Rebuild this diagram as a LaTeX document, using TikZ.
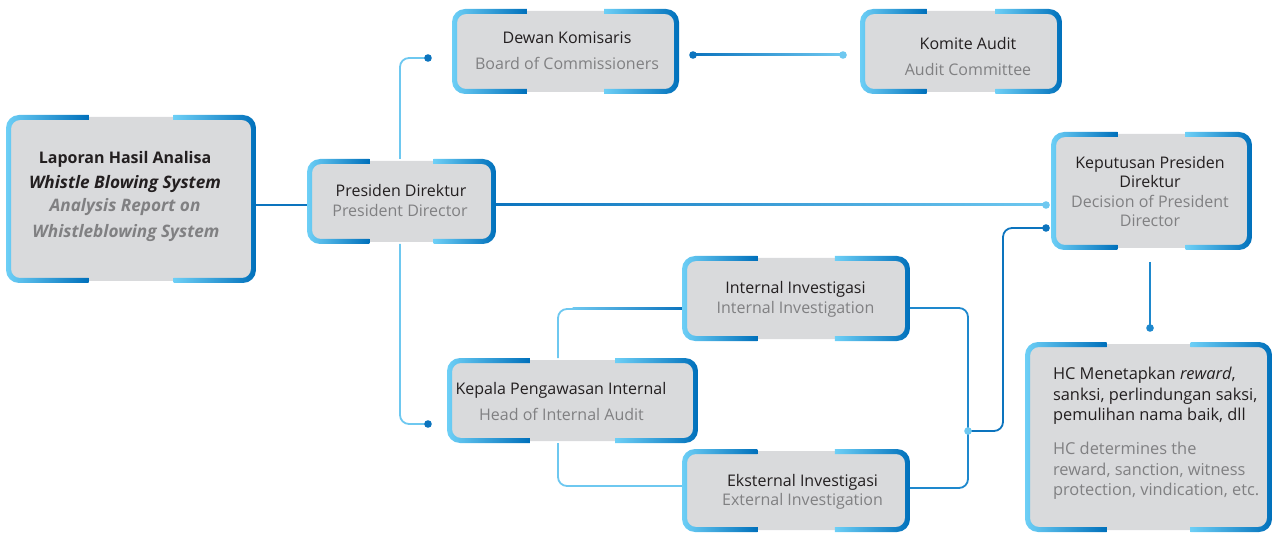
\documentclass[tikz,border=0pt]{standalone}
\usepackage{fontspec}
\setmainfont{Open Sans}
\usetikzlibrary{calc}
\definecolor{lb}{RGB}{109,207,246}
\definecolor{db}{RGB}{0,112,187}
\definecolor{boxgray}{RGB}{217,218,220}
\definecolor{llt}{RGB}{110,200,240}
\definecolor{ldk}{RGB}{12,116,190}
\definecolor{lmid}{RGB}{30,136,205}
\definecolor{tblack}{RGB}{35,31,32}
\definecolor{tgray}{RGB}{128,128,130}
\tikzset{
  boxn/.style={rectangle, inner sep=0pt, outer sep=0pt},
  tx/.style={anchor=mid, inner sep=0pt, outer sep=0pt, yshift=-1.5pt, font=\fontsize{16}{19}\selectfont},
  tb/.style={tx, text=tblack},
  tg/.style={tx, text=tgray},
  hcb/.style={tb, anchor=mid west, font=\fontsize{16.4}{20}\selectfont},
  hcg/.style={tg, anchor=mid west, font=\fontsize{16.4}{20}\selectfont},
  conn/.style={line width=1.8pt, rounded corners=9pt},
}
\newcommand\wbframe[1]{%
  \fill[boxgray,rounded corners=11pt] ([xshift=2pt,yshift=2pt]#1.south west) rectangle ([xshift=-2pt,yshift=-2pt]#1.north east);
  \begin{scope}[even odd rule]
    \clip[rounded corners=13pt] (#1.south west) rectangle (#1.north east);
    \clip[rounded corners=9pt] ([xshift=-20pt,yshift=-20pt]#1.south west) rectangle ([xshift=20pt,yshift=20pt]#1.north east)
      ([xshift=5pt,yshift=5pt]#1.south west) rectangle ([xshift=-5pt,yshift=-5pt]#1.north east);
    \shade[left color=lb,right color=db] (#1.south west) rectangle ($(#1.north west)!0.33!(#1.north east)$);
    \shade[left color=lb,right color=db] ($(#1.south west)!0.67!(#1.south east)$) rectangle (#1.north east);
  \end{scope}
}
\begin{document}
\begin{tikzpicture}[x=1pt,y=-1pt]
\useasboundingbox (0,0) rectangle (1273,534);
% box placeholders
\node[boxn, minimum width=250pt, minimum height=168pt] (lr) at (131,199) {};
\node[boxn, minimum width=189pt, minimum height=85pt] (pd) at (401.5,201.5) {};
\node[boxn, minimum width=227pt, minimum height=85pt] (dk) at (565.5,51.5) {};
\node[boxn, minimum width=202pt, minimum height=85pt] (ka) at (961,51.5) {};
\node[boxn, minimum width=201pt, minimum height=118pt] (kp) at (1151.5,191) {};
\node[boxn, minimum width=247pt, minimum height=190pt] (hc) at (1148.5,437) {};
\node[boxn, minimum width=251pt, minimum height=85pt] (kpi) at (572.5,400.5) {};
\node[boxn, minimum width=228pt, minimum height=85pt] (ii) at (796,298.5) {};
\node[boxn, minimum width=228pt, minimum height=83pt] (ei) at (796,490.5) {};
% connector end points
\coordinate (kpa) at ($(kp.west)+(-5,14)$);
\coordinate (kpb) at ($(kp.west)+(-5,37)$);
\coordinate (dka) at ($(dk.west)+(-24,6.5)$);
\coordinate (kpia) at ($(kpi.west)+(-19,23.5)$);
\coordinate (dkb) at ($(dk.east)+(14,3.5)$);
\coordinate (kaa) at ($(ka.west)+(-17,3.5)$);
\coordinate (iia) at ($(ii.west)+(0,10.5)$);
\coordinate (jn) at ($(ii.east)+(58,132.5)$);
\coordinate (hca) at ($(hc.north)+(1.5,-14)$);
% connectors
\draw[conn, ldk] ($(lr.east)+(0,6)$) -- ($(pd.center)+(0,3.5)$);
\shade[left color=ldk, right color=llt] ($(pd.east |- kpa)+(0,-1)$) rectangle ($(kpa)+(0,1)$);
\fill[llt] (kpa) circle (3.8pt);
\draw[conn, llt] ($(pd.north)+(-1.5,0)$) |- (dka);
\fill[ldk] (dka) circle (3.8pt);
\draw[conn, llt] ($(pd.south)+(-1.5,0)$) |- (kpia);
\fill[ldk] (kpia) circle (3.8pt);
\shade[left color=ldk, right color=llt] ($(dkb)+(0,-1)$) rectangle ($(kaa)+(0,1)$);
\fill[ldk] (dkb) circle (3.8pt);
\fill[llt] (kaa) circle (3.8pt);
\draw[conn, llt] ($(kpi.north)+(-14.5,0)$) |- (iia);
\shade[left color=llt, right color=ldk] ($(kpi.north |- iia)+(0,-1)$) rectangle ($(iia)+(0,1)$);
\draw[conn, llt] ($(kpi.south)+(-14.5,0)$) |- ($(ei.west)+(0,-4.5)$);
\draw[conn, lmid] ($(ii.east)+(0,9.5)$) -| ($(ei.east)+(58,-2.5)$) -- ($(ei.east)+(0,-2.5)$);
\draw[conn, ldk] (jn) -- ++(35,0) |- (kpb);
\fill[llt] (jn) circle (3.8pt);
\fill[ldk] (kpb) circle (3.8pt);
\draw[conn, lmid] ($(kp.south)+(-1.5,12)$) -- (hca);
\fill[lmid] (hca) circle (3.8pt);
% frames
\wbframe{lr}\wbframe{pd}\wbframe{dk}\wbframe{ka}\wbframe{kp}\wbframe{hc}\wbframe{kpi}\wbframe{ii}\wbframe{ei}
% texts
\node[tb, font=\fontsize{16}{19}\selectfont\bfseries] (lr1) at (125,159) {Laporan Hasil Analisa};
\node[tb, font=\fontsize{17.2}{20}\selectfont\bfseries\itshape] (lr2) at (125,184) {Whistle Blowing System};
\node[tg, font=\fontsize{17.2}{20}\selectfont\bfseries\itshape] (lr3) at (125,207) {Analysis Report on};
\node[tg, font=\fontsize{17.2}{20}\selectfont\bfseries\itshape] (lr4) at (126,233) {Whistleblowing System};
\node[tb] (pd1) at (401,192) {Presiden Direktur};
\node[tg] (pd2) at (400,212) {President Director};
\node[tb] (dk1) at (567,39) {Dewan Komisaris};
\node[tg] (dk2) at (567,65) {Board of Commissioners};
\node[tb] (ka1) at (968,45) {Komite Audit};
\node[tg] (ka2) at (968,71) {Audit Committee};
\node[tb] (kp1) at (1150,164) {Keputusan Presiden};
\node[tb] (kp2) at (1150,183) {Direktur};
\node[tg] (kp3) at (1150,203) {Decision of President};
\node[tg] (kp4) at (1150,222) {Director};
\node[tb] (kpi1) at (561,390) {Kepala Pengawasan Internal};
\node[tg] (kpi2) at (561.5,416) {Head of Internal Audit};
\node[tb] (ii1) at (795.5,289) {Internal Investigasi};
\node[tg] (ii2) at (795.5,309) {Internal Investigation};
\node[tb] (ei1) at (802.5,482) {Eksternal Investigasi};
\node[tg] (ei2) at (802.5,501) {External Investigation};
\node[hcb] (hc1) at (1053,375) {HC Menetapkan \textit{reward},};
\node[hcb] (hc2) at (1053,396) {sanksi, perlindungan saksi,};
\node[hcb] (hc3) at (1053,416) {pemulihan nama baik, dll};
\node[hcg] (hc4) at (1053,450) {HC determines the};
\node[hcg] (hc5) at (1053,471) {reward, sanction, witness};
\node[hcg] (hc6) at (1053,491) {protection, vindication, etc.};
\end{tikzpicture}
\end{document}
